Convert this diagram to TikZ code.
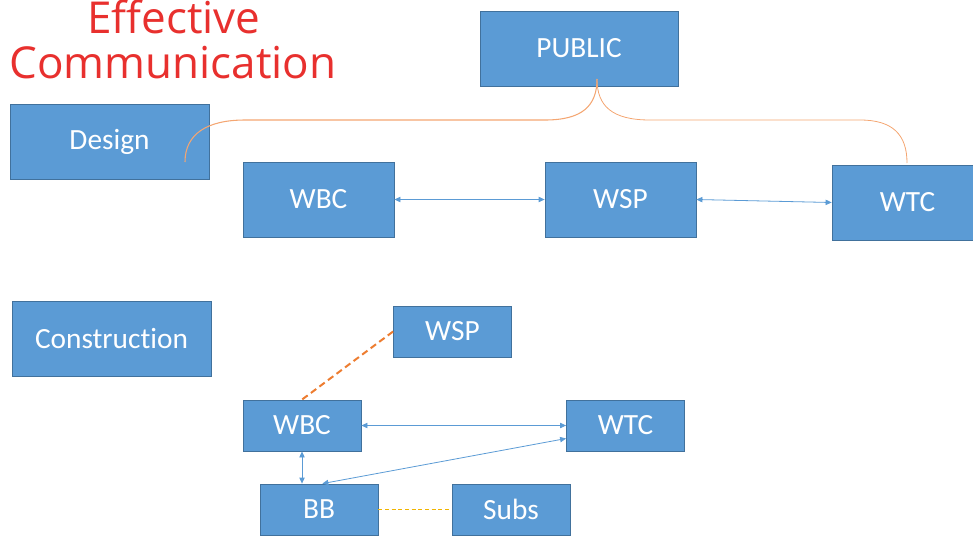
\documentclass[tikz,border=0pt]{standalone}
\usepackage{fontspec}
\setsansfont[Ligatures=NoCommon]{Carlito}
\newfontfamily\handfont{Open Sans}
\usetikzlibrary{arrows.meta}

\definecolor{boxblue}{HTML}{5B9BD5}
\definecolor{boxedge}{HTML}{41719C}
\definecolor{linkorange}{HTML}{ED7D31}
\definecolor{braceorange}{HTML}{F4A672}
\definecolor{linkyellow}{HTML}{F0B400}
\definecolor{titlered}{HTML}{E8302E}

\tikzset{
  blockbox/.style={fill=boxblue, draw=boxedge, line width=0.6pt, text=white,
    font=\sffamily\fontsize{22}{26}\selectfont, inner sep=0pt},
  bigbox/.style={blockbox, minimum width=113.25pt, minimum height=56.25pt},
  smallbox/.style={blockbox, minimum width=88.5pt, minimum height=38.25pt},
  twoway/.style={draw=boxblue, line width=0.6pt, {Triangle[length=4.5pt,width=4pt]}-{Triangle[length=4.5pt,width=4pt]}},
  titletext/.style={text=titlered, anchor=base, inner sep=0pt, font=\handfont\fontsize{33}{36}\selectfont},
}

\begin{document}
\begin{tikzpicture}[x=0.75pt, y=-0.75pt]
		%%%%% FRAME %%%%%
		\useasboundingbox (0,0) rectangle (973,536);
		
		%%%%% TITLE %%%%%
		\node[titletext] (titleA) at (174,33) {Effective};
		\node[titletext] (titleB) at (173,78) {Communication};
		
		%%%%% DESIGN STAGE %%%%%
		\node[bigbox, minimum height=56.25pt, minimum width=148.5pt] (public) at (579,48.5) {PUBLIC};
		\node[bigbox, minimum width=149.25pt] (design) at (109.5,141.5) {Design};
		\node[bigbox] (wbcA) at (318.5,199.5) {WBC};
		\node[bigbox] (wspA) at (620.5,199.5) {WSP};
		\node[bigbox] (wtcA) at (907.5,202.5) {WTC};
		
		\draw[twoway] (wbcA.east) -- (wspA.west);
		\draw[twoway] (wspA.east) -- (wtcA.west);
		
		% brace from Design over to WTC, peak under PUBLIC
		\coordinate (braceL) at (185,162);
		\coordinate (braceTip) at (597,79);
		\coordinate (braceR) at (907,163);
		\draw[braceorange, line width=0.8pt] (braceL) .. controls (185,134) and (207,120) .. (245,120)
			-- (545,120) .. controls (582,120) and (597,106) .. (braceTip);
		\draw[braceorange, line width=0.6pt] (braceTip) .. controls (597,106) and (612,120) .. (650,120)
			-- (860,120) .. controls (892,120) and (907,134) .. (braceR);
		
		%%%%% CONSTRUCTION STAGE %%%%%
		\node[bigbox, minimum width=149.25pt] (construction) at (111.5,338.5) {Construction};
		\node[smallbox] (wspB) at (452.5,331.5) {WSP};
		\node[smallbox] (wbcB) at (302,425.5) {WBC};
		\node[smallbox] (wtcB) at (625.5,425.5) {WTC};
		\node[smallbox] (bb) at (319,509.5) {BB};
		\node[smallbox] (subs) at (511,509.5) {Subs};
		
		\draw[twoway] (wbcB.east) -- (wtcB.west);
		\draw[twoway] (wbcB.south) -- (bb.north -| wbcB.south);
		\draw[twoway] ([xshift=2.5pt]bb.north) -- ([yshift=-9.75pt]wtcB.west);
		\draw[linkorange, line width=1.5pt, dash pattern=on 5pt off 3pt] (wspB.west) -- (wbcB.north);
		\draw[draw=linkyellow, line width=1pt, dash pattern=on 3pt off 2pt] (bb.east) -- (subs.west);
		
	\end{tikzpicture}
\end{document}
